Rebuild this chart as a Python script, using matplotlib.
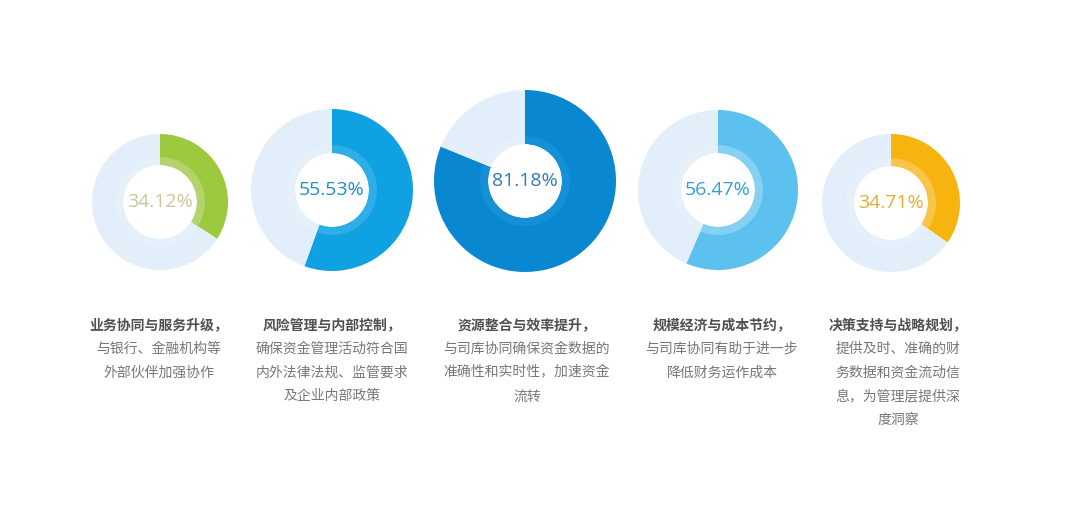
import matplotlib
matplotlib.use("Agg")
import matplotlib.pyplot as plt

plt.rcParams['font.family'] = ['Noto Sans CJK SC', 'DejaVu Sans']

# data
values = [34.12, 55.53, 81.18, 56.47, 34.71]
titles = ["业务协同与服务升级，", "风险管理与内部控制，", "资源整合与效率提升，",
          "规模经济与成本节约，", "决策支持与战略规划，"]
descs = [
    ["与银行、金融机构等", "外部伙伴加强协作"],
    ["确保资金管理活动符合国", "内外法律法规、监管要求", "及企业内部政策"],
    ["与司库协同确保资金数据的", "准确性和实时性，加速资金", "流转"],
    ["与司库协同有助于进一步", "降低财务运作成本"],
    ["提供及时、准确的财", "务数据和资金流动信", "息，为管理层提供深", "度洞察"],
]

# layout (pixel coords, image top-down)
W, H = 1080, 519
centers = [(160, 202), (332, 190), (525, 181), (718, 190), (891, 203)]
radii = [68, 81, 91, 80, 69]
hole = 37
band = 8
text_x = [159, 332, 527, 722, 898]
line0 = 325
line_gap = 23.8

arc_colors = ["#9dc93e", "#0fa1e1", "#0a87d1", "#5cc1ee", "#f8b40e"]
band_colors = ["#b3d46c", "#2eaee6", "#1590d6", "#86d0f3", "#f9c44a"]
pct_colors = ["#c9c79a", "#1e90c9", "#2f7ab4", "#2fa1d8", "#e7ae2c"]
ring_bg = "#e2eef9"

fig = plt.figure(figsize=(W / 100, H / 100), dpi=100)
ax = fig.add_axes([0, 0, 1, 1])

for i, v in enumerate(values):
    cx, cy = centers[i]
    cy = H - cy
    R = radii[i]
    ax.pie([v, 100 - v], center=(cx, cy), radius=R, startangle=90,
           counterclock=False, colors=[arc_colors[i], ring_bg],
           wedgeprops=dict(width=R - hole, linewidth=0))
    # lighter inner band on the arc
    ax.pie([v, 100 - v], center=(cx, cy), radius=hole + band, startangle=90,
           counterclock=False, colors=[band_colors[i], "#e5f0fa"],
           wedgeprops=dict(width=band, linewidth=0))
    ax.text(cx, cy, f"{v:.2f}%", ha="center", va="center",
            fontsize=14, color=pct_colors[i], family=["Open Sans", "DejaVu Sans"])

    tx = text_x[i]
    ax.text(tx, H - line0, titles[i], ha="center", va="center",
            fontsize=10, color="#505050", fontweight="bold")
    for j, line in enumerate(descs[i]):
        ax.text(tx, H - (line0 + line_gap * (j + 1)), line, ha="center", va="center",
                fontsize=10, color="#777777")

ax.set_xlim(0, W)
ax.set_ylim(0, H)
ax.set_aspect("auto")
ax.axis("off")

fig.savefig("out.png", dpi=100, facecolor="white")
